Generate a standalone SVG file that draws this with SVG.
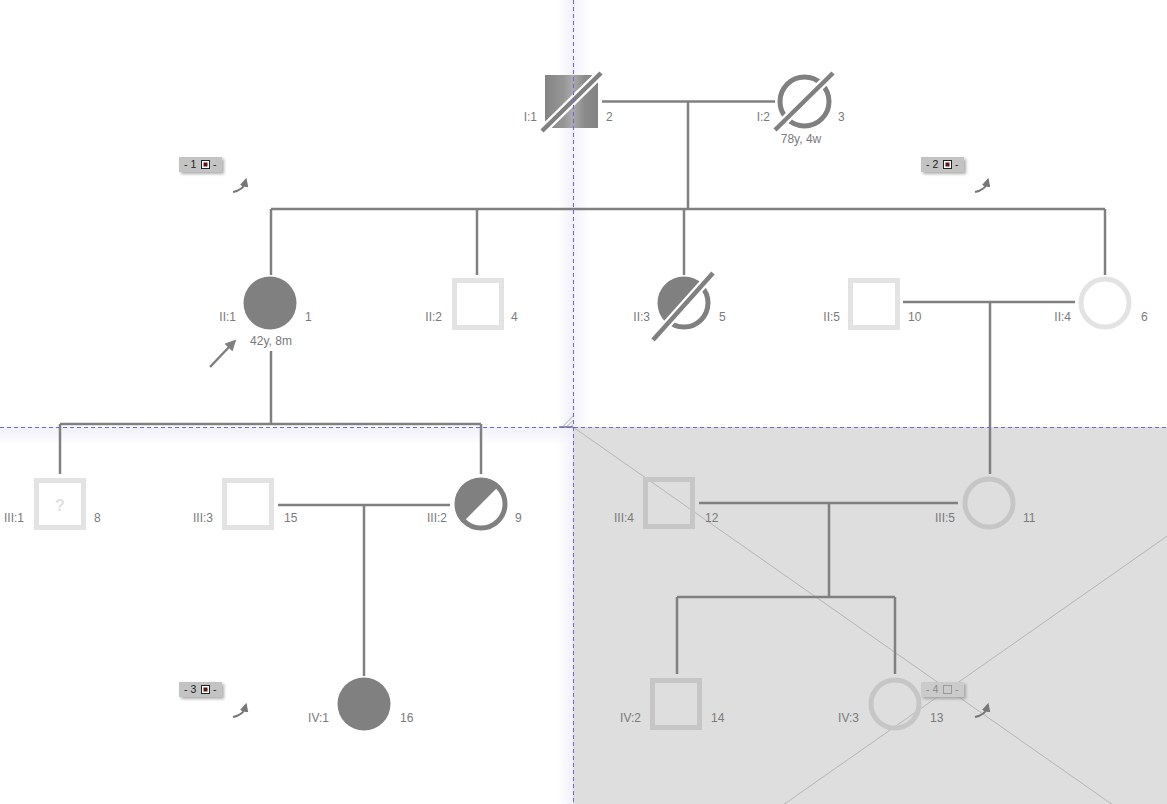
<svg xmlns="http://www.w3.org/2000/svg" width="1167" height="804" viewBox="0 0 1167 804">
<style>
  text { font-family: "Liberation Sans", Arial, sans-serif; font-size: 12px; fill: #7a7a7a; }
  .lbl-l { text-anchor: end; }
  .age { text-anchor: middle; }
  .conn { stroke: #808080; stroke-width: 2.5; fill: none; }
  .aff { fill: #808080; stroke: none; }
  .ring { fill: none; stroke: #808080; stroke-width: 5; }
  .unk { fill: none; stroke: #e3e3e3; stroke-width: 5; }
  .unk2 { fill: none; stroke: #c6c6c6; stroke-width: 5; }
  .slash-bg { stroke: #ffffff; stroke-width: 9; }
  .slash { stroke: #808080; stroke-width: 4.5; }
  .guide { stroke: #7264e6; stroke-width: 1; stroke-dasharray: 4 3; }
  .badge { fill: #c3c3c3; }
  .btxt { font-size: 10.5px; fill: #222; }
  .btxt4 { font-size: 10.5px; fill: #8a8a8a; }
  .curl { fill: none; stroke: #777; stroke-width: 2; }
</style>
<defs>
  <linearGradient id="sqgrad" gradientUnits="userSpaceOnUse" x1="545" y1="0" x2="598" y2="0">
    <stop offset="0" stop-color="#838383"/>
    <stop offset="0.35" stop-color="#969696"/>
    <stop offset="0.52" stop-color="#aaaaaa"/>
    <stop offset="0.75" stop-color="#8b8b8b"/>
    <stop offset="1" stop-color="#828282"/>
  </linearGradient>
  <linearGradient id="vband" x1="0" y1="0" x2="1" y2="0">
    <stop offset="0" stop-color="#f2f2fb" stop-opacity="0"/>
    <stop offset="0.45" stop-color="#f0f0fb" stop-opacity="0.95"/>
    <stop offset="1" stop-color="#f2f2fb" stop-opacity="0"/>
  </linearGradient>
  <linearGradient id="hband" x1="0" y1="0" x2="0" y2="1">
    <stop offset="0" stop-color="#efeffa" stop-opacity="0.95"/>
    <stop offset="1" stop-color="#f0f0fa" stop-opacity="0"/>
  </linearGradient>
  <pattern id="hatch" patternUnits="userSpaceOnUse" width="3" height="3" patternTransform="rotate(45)">
    <line x1="0" y1="0" x2="0" y2="3" stroke="#8a8a8a" stroke-width="1"/>
  </pattern>
  <filter id="shadow" x="-20%" y="-30%" width="150%" height="180%">
    <feDropShadow dx="2" dy="2" stdDeviation="1.5" flood-color="#999" flood-opacity="0.8"/>
  </filter>
  <marker id="arr" viewBox="0 0 10 10" refX="4" refY="5" markerWidth="4.5" markerHeight="4.5" orient="auto">
    <path d="M0,0 L10,5 L0,10 Z" fill="#777"/>
  </marker>
  <marker id="parr" viewBox="0 0 10 10" refX="2" refY="5" markerWidth="4.5" markerHeight="4.5" orient="auto">
    <path d="M0,0 L10,5 L0,10 Z" fill="#808080"/>
  </marker>
</defs>

<rect x="0" y="0" width="1167" height="804" fill="#ffffff"/>

<g id="page-guides">
  <rect x="558" y="0" width="32" height="804" fill="url(#vband)"/>
  <rect x="0" y="427" width="573" height="18" fill="url(#hband)"/>
  <rect x="573" y="427" width="594" height="377" fill="#dedede"/>
  <line x1="573" y1="427" x2="1323" y2="952" stroke="#b5b5b5" stroke-width="1"/>
  <line x1="573" y1="952" x2="1323" y2="427" stroke="#b5b5b5" stroke-width="1"/>
  <polygon points="559,427 573,427 573,413" fill="url(#hatch)"/>
  <line x1="559" y1="427" x2="573" y2="427" stroke="#777" stroke-width="1.5"/>
</g>

<g id="connectors">
  <line class="conn" x1="602" y1="101.5" x2="775" y2="101.5"/>
  <line class="conn" x1="688" y1="101.5" x2="688" y2="209"/>
  <line class="conn" x1="271" y1="209" x2="1105" y2="209"/>
  <line class="conn" x1="271" y1="209" x2="271" y2="275"/>
  <line class="conn" x1="477" y1="209" x2="477" y2="275"/>
  <line class="conn" x1="684" y1="209" x2="684" y2="275"/>
  <line class="conn" x1="1105" y1="209" x2="1105" y2="275"/>
  <line class="conn" x1="903" y1="302" x2="1075" y2="302"/>
  <line class="conn" x1="990" y1="302" x2="990" y2="474"/>
  <line class="conn" x1="271" y1="351" x2="271" y2="424"/>
  <line class="conn" x1="60" y1="424" x2="481" y2="424"/>
  <line class="conn" x1="60" y1="424" x2="60" y2="474"/>
  <line class="conn" x1="481" y1="424" x2="481" y2="474"/>
  <line class="conn" x1="278" y1="505" x2="450" y2="505"/>
  <line class="conn" x1="364" y1="505" x2="364" y2="676"/>
  <line class="conn" x1="699" y1="503" x2="958" y2="503"/>
  <line class="conn" x1="829" y1="503" x2="829" y2="597"/>
  <line class="conn" x1="677" y1="597" x2="895" y2="597"/>
  <line class="conn" x1="677" y1="597" x2="677" y2="674"/>
  <line class="conn" x1="895" y1="597" x2="895" y2="674"/>
  <line class="conn" x1="210" y1="367" x2="230" y2="346" marker-end="url(#parr)"/>
</g>

<g id="node-I1">
  <rect x="545" y="75" width="53" height="53" fill="url(#sqgrad)"/>
  <line class="slash-bg" x1="542" y1="131" x2="601" y2="73"/>
  <line class="slash" x1="542" y1="131" x2="601" y2="73"/>
  <text class="lbl-l" x="537" y="121">I:1</text>
  <text x="606" y="121">2</text>
</g>

<g id="node-I2">
  <circle class="ring" cx="804.5" cy="101.5" r="24.5"/>
  <line class="slash-bg" x1="775" y1="130" x2="833" y2="73"/>
  <line class="slash" x1="775" y1="130" x2="833" y2="73"/>
  <text class="lbl-l" x="770" y="121">I:2</text>
  <text x="838" y="121">3</text>
  <text class="age" x="801" y="143">78y, 4w</text>
</g>

<g id="node-II1">
  <circle class="aff" cx="270" cy="303" r="26.5"/>
  <text class="lbl-l" x="236" y="321">II:1</text>
  <text x="305" y="321">1</text>
  <text class="age" x="271" y="345">42y, 8m</text>
</g>

<g id="node-II2">
  <rect class="unk" x="454.5" y="280.5" width="47" height="47"/>
  <text class="lbl-l" x="442" y="321">II:2</text>
  <text x="511" y="321">4</text>
</g>

<g id="node-II3">
  <path class="aff" d="M666.7,322.4 A26 26 0 0 1 701.3,283.6 Z"/>
  <circle class="ring" cx="684" cy="303" r="24"/>
  <line class="slash-bg" x1="653" y1="340" x2="713" y2="273"/>
  <line class="slash" x1="653" y1="340" x2="713" y2="273"/>
  <text class="lbl-l" x="650" y="321">II:3</text>
  <text x="719" y="321">5</text>
</g>

<g id="node-II5">
  <rect class="unk" x="850.5" y="280.5" width="47" height="47"/>
  <text class="lbl-l" x="840" y="321">II:5</text>
  <text x="908" y="321">10</text>
</g>

<g id="node-II4">
  <circle class="unk" cx="1105" cy="303" r="24"/>
  <text class="lbl-l" x="1071" y="321">II:4</text>
  <text x="1141" y="321">6</text>
</g>

<g id="node-III1">
  <rect class="unk" x="36.5" y="480.5" width="47" height="47"/>
  <text x="60" y="511" text-anchor="middle" style="font-size:16px;font-weight:bold;fill:#e0e0e0">?</text>
  <text class="lbl-l" x="24" y="522">III:1</text>
  <text x="94" y="522">8</text>
</g>

<g id="node-III3">
  <rect class="unk" x="224.5" y="480.5" width="47" height="47"/>
  <text class="lbl-l" x="213" y="522">III:3</text>
  <text x="284" y="522">15</text>
</g>

<g id="node-III2">
  <path class="aff" d="M462.6,522.4 A26 26 0 0 1 499.4,485.6 Z"/>
  <circle class="ring" cx="481" cy="504" r="24"/>
  <text class="lbl-l" x="447" y="522">III:2</text>
  <text x="515" y="522">9</text>
</g>

<g id="node-IV1">
  <circle class="aff" cx="364" cy="704" r="26.5"/>
  <text class="lbl-l" x="329" y="722">IV:1</text>
  <text x="400" y="722">16</text>
</g>

<g id="node-III4">
  <rect class="unk2" x="645.5" y="479.5" width="47" height="47"/>
  <text class="lbl-l" x="634" y="522">III:4</text>
  <text x="705" y="522">12</text>
</g>

<g id="node-III5">
  <circle class="unk2" cx="989" cy="503" r="24"/>
  <text class="lbl-l" x="955" y="522">III:5</text>
  <text x="1023" y="522">11</text>
</g>

<g id="node-IV2">
  <rect class="unk2" x="652.5" y="680.5" width="47" height="47"/>
  <text class="lbl-l" x="641" y="722">IV:2</text>
  <text x="711" y="722">14</text>
</g>

<g id="node-IV3">
  <circle class="unk2" cx="895" cy="704" r="24"/>
  <text class="lbl-l" x="859" y="722">IV:3</text>
  <text x="930" y="722">13</text>
</g>

<g id="page-badges">
  <g id="badge-1">
    <rect class="badge" x="179" y="157" width="43" height="15" filter="url(#shadow)"/>
    <text class="btxt" x="184" y="168">- 1</text>
    <rect x="201.5" y="160.5" width="8" height="8" fill="#fff" stroke="#222" stroke-width="1"/>
    <rect x="203.5" y="162.5" width="4" height="4" fill="#5a1212"/>
    <text class="btxt" x="213" y="168">-</text>
    <path class="curl" d="M233,192 Q243,190 245,183" marker-end="url(#arr)"/>
  </g>
  <g id="badge-2">
    <rect class="badge" x="921" y="157" width="43" height="15" filter="url(#shadow)"/>
    <text class="btxt" x="926" y="168">- 2</text>
    <rect x="943.5" y="160.5" width="8" height="8" fill="#fff" stroke="#222" stroke-width="1"/>
    <rect x="945.5" y="162.5" width="4" height="4" fill="#5a1212"/>
    <text class="btxt" x="955" y="168">-</text>
    <path class="curl" d="M975,192 Q985,190 987,183" marker-end="url(#arr)"/>
  </g>
  <g id="badge-3">
    <rect class="badge" x="179" y="682" width="43" height="15" filter="url(#shadow)"/>
    <text class="btxt" x="184" y="693">- 3</text>
    <rect x="201.5" y="685.5" width="8" height="8" fill="#fff" stroke="#222" stroke-width="1"/>
    <rect x="203.5" y="687.5" width="4" height="4" fill="#5a1212"/>
    <text class="btxt" x="213" y="693">-</text>
    <path class="curl" d="M233,717 Q243,715 245,708" marker-end="url(#arr)"/>
  </g>
  <g id="badge-4">
    <rect x="921" y="682" width="43" height="15" style="fill:#cbcbcb" filter="url(#shadow)"/>
    <text class="btxt4" x="926" y="693">- 4</text>
    <rect x="943.5" y="685.5" width="8" height="8" fill="none" stroke="#9a9a9a" stroke-width="1"/>
    <text class="btxt4" x="955" y="693">-</text>
    <path class="curl" d="M975,717 Q985,715 987,708" marker-end="url(#arr)"/>
  </g>
</g>

<g id="guide-lines">
  <line class="guide" x1="573.5" y1="0" x2="573.5" y2="804"/>
  <line class="guide" x1="0" y1="427.5" x2="1167" y2="427.5"/>
</g>
</svg>
